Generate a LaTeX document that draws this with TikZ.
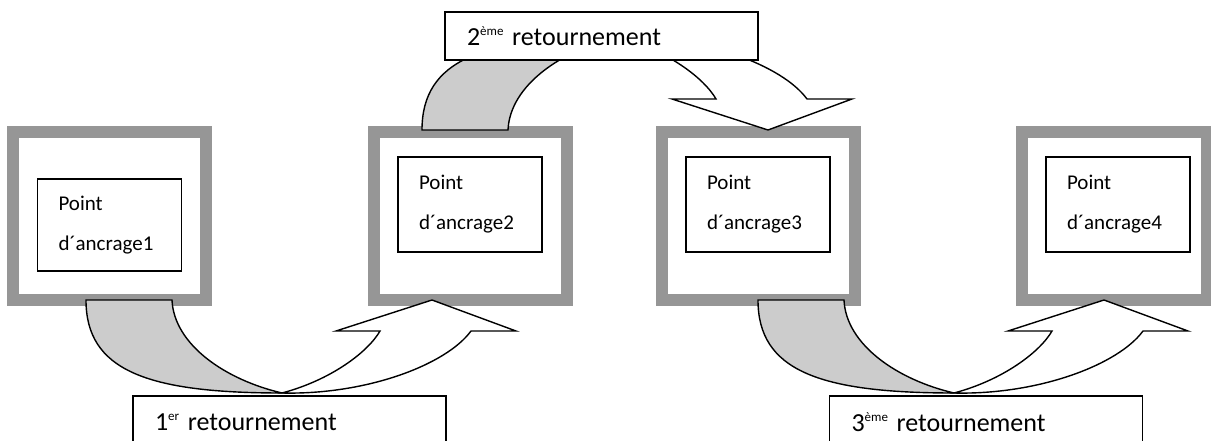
\documentclass[tikz,border=0pt]{standalone}
\usepackage{fontspec}
\setmainfont{Carlito}
\usepackage{tikz}
\usetikzlibrary{positioning}
\usepackage{xcolor}
\definecolor{framegray}{RGB}{150,150,150}
\definecolor{bandgray}{RGB}{204,204,204}
\newcommand{\rang}[1]{\raisebox{10pt}{\fontsize{13}{13}\selectfont #1}}

\begin{document}
\begin{tikzpicture}[x=1pt,y=-1pt,
    frame/.style={draw=framegray,line width=12pt,minimum width=193pt,minimum height=168pt,inner sep=0pt},
    anchorbox/.style={draw,line width=1.6pt,fill=white,minimum width=144pt,minimum height=95pt,
        text width=102pt,inner xsep=21pt,align=left,font=\fontsize{21}{40}\selectfont},
    turnbox/.style={draw,line width=1.6pt,fill=white,minimum width=313pt,text width=269pt,
        inner xsep=22pt,align=left,font=\fontsize{26}{30}\selectfont},
    band/.style={draw,line width=1.4pt,fill=bandgray},
    head/.style={draw,line width=1.4pt,fill=white}]
    \useasboundingbox (0,0) rectangle (1211,441);

    % frames
    \node[frame] (f1) at (109.5,216) {};
    \node[frame] (f2) at (470,216) {};
    \node[frame] (f3) at (758.5,216) {};
    \node[frame,minimum width=185pt] (f4) at (1114.5,216) {};

    % anchor points
    \node[anchorbox,minimum height=92pt] (p1) at (109.5,225) {Point\\d´ancrage1};
    \node[anchorbox] (p2) at (470,204.5) {Point\\d´ancrage2};
    \node[anchorbox] (p3) at (758,204.5) {Point\\d´ancrage3};
    \node[anchorbox] (p4) at (1118,204.5) {Point\\d´ancrage4};

    % curved arrows
    \foreach \bx/\by/\s in {86/300/1,422/130/-1,758/300/1}{
        \begin{scope}[shift={(\bx,\by)},yscale=\s]
            \draw[band] (0,0) .. controls (0,70) and (60,93) .. (196,93)
                .. controls (140,80) and (88,45) .. (86,0) -- cycle;
            \draw[head] (196,93) .. controls (280,95) and (360,65) .. (385,31)
                -- (430,31) -- (346,0) -- (250,31) -- (294,31)
                .. controls (282,52) and (245,80) .. (196,93) -- cycle;
        \end{scope}
    }

    % turns
    \node[turnbox,minimum height=53pt] (t1) at (289.5,422.5) {1\rang{er} retournement};
    \node[turnbox,minimum height=48pt] (t2) at (601.5,36) {2\rang{ème} retournement};
    \node[turnbox,minimum height=53pt] (t3) at (986,422.5) {3\rang{ème} retournement};
\end{tikzpicture}
\end{document}
